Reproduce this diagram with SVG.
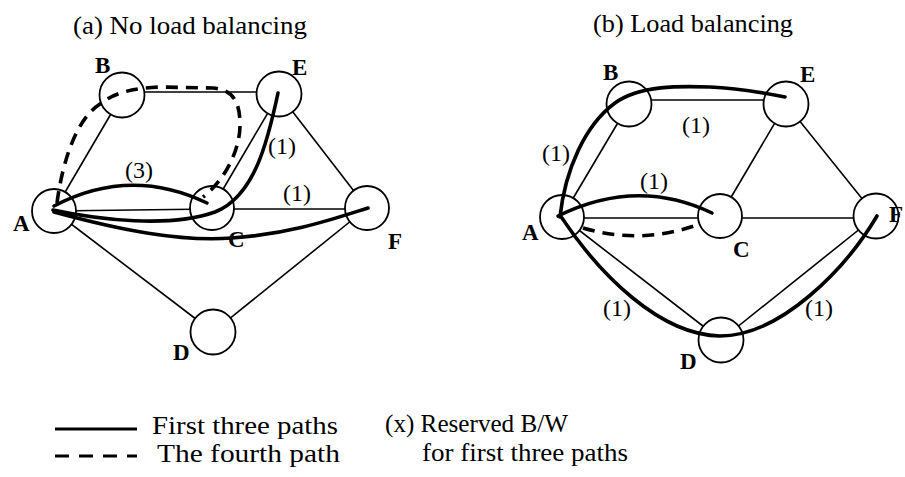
<svg xmlns="http://www.w3.org/2000/svg" width="905" height="477" viewBox="0 0 905 477">
<style>
.edge{stroke:#000;stroke-width:1.6;fill:none}
.node{fill:#fff;stroke:#000;stroke-width:1.8}
.path{stroke:#000;stroke-width:3.6;fill:none;stroke-linecap:round}
.dash{stroke:#000;stroke-width:3.6;fill:none;stroke-dasharray:12 8}
.lbl{font-family:"Liberation Serif","Times New Roman",serif;font-weight:bold;font-size:23px;fill:#000}
.bw{font-family:"Liberation Serif","Times New Roman",serif;font-size:24px;fill:#000}
.title{font-family:"Liberation Serif","Times New Roman",serif;font-size:25px;fill:#000}
.leg{font-family:"Liberation Serif","Times New Roman",serif;font-size:25px;fill:#000}
</style>
<rect width="905" height="477" fill="#fff"/>
<text class="title" x="73" y="34" textLength="234" lengthAdjust="spacingAndGlyphs">(a) No load balancing</text>
<text class="title" x="593" y="32" textLength="200" lengthAdjust="spacingAndGlyphs">(b) Load balancing</text>
<g id="edges">
<line class="edge" x1="54" y1="211" x2="122" y2="95"/>
<line class="edge" x1="122" y1="92" x2="279" y2="92"/>
<line class="edge" x1="279" y1="94" x2="367" y2="208"/>
<line class="edge" x1="54" y1="211" x2="212" y2="209"/>
<line class="edge" x1="212" y1="209" x2="367" y2="209"/>
<line class="edge" x1="212" y1="208" x2="279" y2="94"/>
<line class="edge" x1="54" y1="211" x2="213" y2="332"/>
<line class="edge" x1="213" y1="332" x2="367" y2="208"/>
<line class="edge" x1="562" y1="217" x2="629" y2="104"/>
<line class="edge" x1="629" y1="100" x2="786" y2="100"/>
<line class="edge" x1="786" y1="104" x2="876" y2="216"/>
<line class="edge" x1="562" y1="218" x2="720" y2="218"/>
<line class="edge" x1="720" y1="218" x2="876" y2="218"/>
<line class="edge" x1="720" y1="216" x2="786" y2="104"/>
<line class="edge" x1="562" y1="217" x2="721" y2="340"/>
<line class="edge" x1="721" y1="340" x2="876" y2="216"/>
</g>
<g id="nodeA1"><circle class="node" cx="54" cy="211" r="22"/><text class="lbl" x="13" y="231">A</text></g>
<g id="nodeB1"><circle class="node" cx="122" cy="95" r="22.5"/><text class="lbl" x="95" y="73">B</text></g>
<g id="nodeE1"><circle class="node" cx="279" cy="94" r="22.5"/><text class="lbl" x="292" y="75">E</text></g>
<g id="nodeC1"><circle class="node" cx="212" cy="208" r="22"/><text class="lbl" x="228" y="247">C</text></g>
<g id="nodeF1"><circle class="node" cx="367" cy="208" r="22"/><text class="lbl" x="388" y="249">F</text></g>
<g id="nodeD1"><circle class="node" cx="213" cy="332" r="22.5"/><text class="lbl" x="173" y="360">D</text></g>
<g id="nodeA2"><circle class="node" cx="562" cy="217" r="22"/><text class="lbl" x="522" y="240">A</text></g>
<g id="nodeB2"><circle class="node" cx="629" cy="104" r="22.5"/><text class="lbl" x="603" y="80">B</text></g>
<g id="nodeE2"><circle class="node" cx="786" cy="104" r="22.5"/><text class="lbl" x="800" y="82">E</text></g>
<g id="nodeC2"><circle class="node" cx="720" cy="216" r="22"/><text class="lbl" x="733" y="257">C</text></g>
<g id="nodeF2"><circle class="node" cx="876" cy="216" r="22.5"/><text class="lbl" x="889" y="222">F</text></g>
<g id="nodeD2"><circle class="node" cx="721" cy="340" r="22.5"/><text class="lbl" x="680" y="369">D</text></g>
<g id="paths">
<path class="path" d="M54,206 Q130,166 207,203"/>
<path class="path" d="M53,210 C100,220 170,228 215,212 C255,196 268,140 278,93"/>
<path class="path" d="M54,212 C120,230 180,242 232,238 C290,234 330,220 368,208"/>
<path class="dash" d="M57,203 C62,165 75,120 100,104 C115,92 135,88 160,87 L213,88 C232,90 240,100 240,125 C240,150 225,180 203,197"/>
<path class="path" d="M560,217 C565,170 585,125 615,103 C640,85 680,86 710,87 C740,88 765,93 785,97"/>
<path class="path" d="M558,216 Q637,177 712,213"/>
<path class="dash" d="M583,228 Q640,245 697,225"/>
<path class="path" d="M562,218 C600,275 660,335 720,336 C780,336 845,270 877,216"/>
</g>
<g id="bw-labels">
<text class="bw" x="125" y="178">(3)</text>
<text class="bw" x="268" y="154">(1)</text>
<text class="bw" x="283" y="201">(1)</text>
<text class="bw" x="542" y="161">(1)</text>
<text class="bw" x="682" y="133">(1)</text>
<text class="bw" x="640" y="189">(1)</text>
<text class="bw" x="603" y="316">(1)</text>
<text class="bw" x="805" y="316">(1)</text>
</g>
<g id="legend">
<line x1="55" y1="429" x2="137" y2="429" stroke="#000" stroke-width="3"/>
<line x1="55" y1="456" x2="137" y2="456" stroke="#000" stroke-width="3.2" stroke-dasharray="14 10"/>
<text class="leg" x="152" y="434" textLength="186" lengthAdjust="spacingAndGlyphs">First three paths</text>
<text class="leg" x="157" y="462" textLength="183" lengthAdjust="spacingAndGlyphs">The fourth path</text>
<text class="leg" x="385" y="432" textLength="183" lengthAdjust="spacingAndGlyphs">(x) Reserved B/W</text>
<text class="leg" x="422" y="461" textLength="206" lengthAdjust="spacingAndGlyphs">for first three paths</text>
</g>
</svg>
